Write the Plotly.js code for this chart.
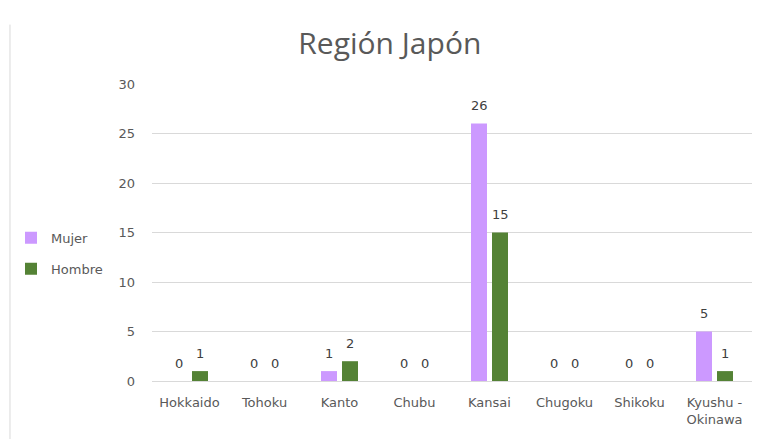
<!DOCTYPE html>
<html><head><meta charset="utf-8">
<script src="https://cdn.plot.ly/plotly-3.0.1.min.js"></script>
<style>html,body{margin:0;padding:0;background:#fff}</style>
</head><body><div id="chart" style="width:757px;height:439px"></div>
<script>
const categories = ["Hokkaido","Tohoku","Kanto","Chubu","Kansai","Chugoku","Shikoku","Kyushu -<br>Okinawa"];
const mujer = [0,0,1,0,26,0,0,5];
const hombre = [1,0,2,0,15,0,0,1];
const yTicks = [0,5,10,15,20,25,30];

const fam = "DejaVu Sans, Verdana, sans-serif";
const font = {family:fam, size:13, color:"#595959"};
const traces = [
  {type:"bar", name:"Mujer", legendgroup:"m", x:categories, y:mujer, marker:{color:"#cc99ff"}},
  {type:"bar", name:"Hombre", legendgroup:"h", x:categories, y:hombre, marker:{color:"#548235"}}
];
const labels = [];
[[mujer,-10.5],[hombre,10.5]].forEach(([vals,dx]) => {
  vals.forEach((v,i) => labels.push({x:categories[i], y:v, xref:"x", yref:"y", text:String(v),
    showarrow:false, xshift:dx, yshift:18, yanchor:"middle",
    font:{family:fam, size:13, color:"#404040"}}));
});
const layout = {
  width:757, height:439,
  margin:{l:152, r:5, t:84, b:58},
  paper_bgcolor:"#fff", plot_bgcolor:"#fff",
  font: font,
  title:{text:"Región Japón", font:{family:"Open Sans, sans-serif", size:30, color:"#595959"}, x:0.515, xanchor:"center", y:0.9, yanchor:"middle"},
  barmode:"group", bargap:0.44, bargroupgap:0.238,
  xaxis:{type:"category", showgrid:false, showline:false, ticks:"", tickfont:font, ticklabelstandoff:12},
  yaxis:{range:[0,30], tickvals:yTicks, gridcolor:"#d9d9d9", zeroline:true, zerolinecolor:"#d9d9d9",
         showline:false, ticks:"", tickfont:font, ticklabelstandoff:16},
  legend:{x:-0.235, xanchor:"left", y:0.43, yanchor:"middle", font:{family:fam,size:13,color:"#595959"},
          itemwidth:30, tracegroupgap:11, bgcolor:"rgba(0,0,0,0)"},
  showlegend:true,
  annotations: labels,
  shapes:[{type:"line", xref:"paper", yref:"paper", x0:-0.2367, x1:-0.2367, y0:-0.2, y1:1.2,
           line:{color:"#d9d9d9", width:1}}]
};
Plotly.newPlot("chart", traces, layout, {displayModeBar:false, staticPlot:true});
</script></body></html>
